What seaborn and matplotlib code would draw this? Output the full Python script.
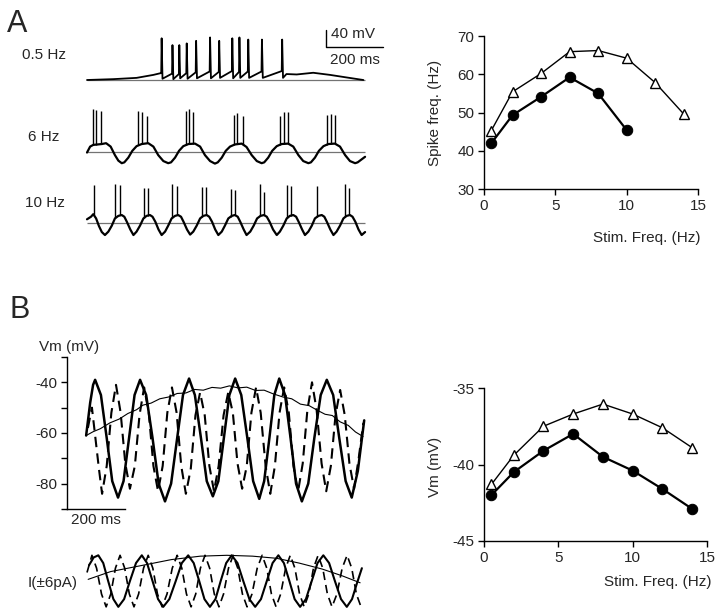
import numpy as np
import matplotlib
matplotlib.use("Agg")
import matplotlib.pyplot as plt
import seaborn as sns

# ---------------- data ----------------
# A right: spike frequency vs stimulus frequency
stim_tri = [0.5, 2, 4, 6, 8, 10, 12, 14]
spike_tri = [45.2, 55.4, 60.2, 65.9, 66.2, 64.2, 57.8, 49.6]
stim_dot = [0.5, 2, 4, 6, 8, 10]
spike_dot = [41.9, 49.3, 54.1, 59.2, 55.0, 45.4]

# B right: mean Vm vs stimulus frequency
stim_b = [0.5, 2, 4, 6, 8, 10, 12, 14]
vm_tri = [-41.3, -39.4, -37.5, -36.7, -36.05, -36.7, -37.6, -38.9]
vm_dot = [-42.0, -40.5, -39.1, -38.0, -39.5, -40.4, -41.6, -42.9]

# A left, 0.5 Hz trace (ms, mV above rest)
a05_start_t = [0, 92, 174, 233, 258]
a05_start_v = [0, 2, 5, 12, 16]
a05_spk_t = [262, 300, 324, 350, 383, 432, 464, 510, 535, 566, 614, 685]
a05_spk_v = [98, 82, 82, 86, 92, 100, 92, 98, 100, 95, 95, 95]
a05_pre_v = [16, 15, 14, 16, 18, 20, 19, 21, 19, 20, 20, 21]
a05_ahp_v = [3, 2, 4, 3, 4, 4, 5, 4, 5, 5, 5, 5]
a05_tail_t = [700, 736, 794, 853, 911, 970]
a05_tail_v = [14, 13, 17, 12, 6, 0]

# A left, 6 Hz trace
a6_t = [0, 11, 22, 52, 67, 83, 98, 110, 122,
        131, 145, 159, 174, 192, 215, 233, 250, 268, 285,
        295, 309, 323, 338, 356, 379, 397, 414, 432, 449,
        459, 473, 487, 502, 519, 543, 560, 578, 596, 613,
        622, 636, 650, 666, 683, 706, 724, 742, 759, 777,
        786, 800, 814, 830, 847, 870, 888, 906, 923, 941,
        950, 962, 976]
a6_v = [-2, 12, 16, 18, 20, 12, -8, -21, -27,
        -25, -14, 2, 13, 18, 20, 12, -8, -22, -27,
        -25, -14, 2, 13, 18, 19, 12, -8, -22, -28,
        -25, -14, 2, 12, 17, 19, 11, -8, -22, -27,
        -25, -14, 2, 13, 18, 19, 12, -8, -22, -27,
        -25, -14, 2, 13, 18, 19, 12, -8, -22, -27,
        -25, -19, -12]
a6_spk_t = [20, 32, 49, 180, 192, 209, 347, 359, 371, 516, 528, 549,
            677, 692, 707, 841, 855, 870]
a6_spk_v = [100, 98, 96, 96, 94, 84, 96, 100, 94, 86, 91, 84,
            84, 94, 94, 86, 89, 86]

# A left, 10 Hz trace
a10_t = [0, 14, 22, 32, 42, 52, 63,
         75, 87, 98, 110, 122, 131, 140, 152, 163,
         174, 186, 198, 209, 221, 230, 240, 251, 262,
         274, 285, 297, 309, 320, 330, 339, 351, 362,
         373, 385, 397, 408, 420, 429, 439, 450, 461,
         473, 484, 496, 508, 519, 529, 538, 550, 560,
         573, 585, 597, 609, 621, 631, 641, 653, 666,
         677, 689, 701, 712, 724, 734, 743, 755, 765,
         777, 789, 800, 812, 824, 833, 842, 854, 865,
         876, 888, 900, 911, 923, 932, 942, 953, 964,
         976]
a10_v = [8, 14, 20, 10, -8, -22, -29,
         -21, -7, 10, 16, 18, 14, 2, -16, -29,
         -21, -7, 10, 16, 18, 14, 2, -16, -29,
         -21, -7, 10, 16, 18, 14, 2, -16, -28,
         -21, -7, 10, 16, 18, 14, 2, -16, -29,
         -21, -7, 10, 16, 18, 14, 2, -16, -29,
         -21, -7, 10, 16, 18, 14, 2, -16, -29,
         -21, -7, 10, 16, 18, 14, 2, -16, -29,
         -21, -7, 10, 16, 18, 14, 2, -16, -29,
         -21, -7, 10, 16, 18, 14, 2, -16, -29,
         -22]
a10_spk_t = [25, 98, 116, 200, 213, 299, 317, 403, 417, 504, 520, 607, 621,
             701, 715, 806, 906, 921]
a10_spk_v = [89, 90, 89, 82, 82, 90, 87, 85, 85, 79, 77, 90, 73,
             89, 87, 87, 90, 81]

# B left, Vm traces (ms, mV)
b6_t = [66, 80, 90, 97, 117, 137, 156, 176, 195, 214, 233, 252, 273, 295, 316,
        338, 359, 380, 400, 421, 441, 462, 482, 503, 522, 541, 560, 580, 601,
        622, 642, 663, 680, 698, 715, 732, 752, 771, 790, 810, 832, 853, 875,
        896, 918, 939, 961, 982, 1003, 1025]
b6_v = [-61, -48, -41, -39, -45, -62, -79, -85.5, -79, -62, -45, -39, -45, -62,
        -80, -87, -80, -62, -45, -38.5, -45, -62, -79, -85, -79, -62, -45, -38.5,
        -45, -62, -79, -86, -79, -62, -45, -38.5, -45, -62, -80, -87, -80, -62,
        -45, -39, -45, -62, -79, -85.5, -75, -55]
b10_t = [72, 86, 98, 110, 121, 137, 153, 169, 185, 201, 217, 234, 250, 266, 282,
         298, 314, 330, 346, 362, 378, 394, 410, 427, 443, 459, 475, 491, 507,
         523, 540, 556, 572, 588, 604, 620, 636, 652, 668, 685, 701, 717, 733,
         749, 765, 781, 797, 813, 829, 845, 861, 878, 894, 910, 926, 942, 958,
         974, 990, 1006, 1022]
b10_v = [-58, -50, -62, -74, -84, -73, -52, -41, -52, -72, -82, -73, -53, -42,
         -52, -73, -83, -73, -52, -42, -52, -73, -84, -74, -53, -44, -53, -73,
         -83, -73, -53, -44, -52, -72, -82, -73, -52, -42, -52, -73, -84, -73,
         -52, -42, -52, -73, -83, -72, -51, -40, -51, -72, -83, -73, -53, -43,
         -53, -72, -82, -70, -56]
b05_t = [66, 90, 115, 148, 180, 210, 240, 262, 290, 320, 350, 380, 410, 440,
         470, 500, 530, 560, 590, 620, 650, 680, 710, 745, 775, 805, 835, 863,
         890, 915, 942, 970, 995, 1021]
b05_v = [-61, -59.5, -58.3, -56, -54.5, -52.3, -50.8, -49, -48.2, -46.5, -45.8,
         -44.4, -44.2, -42.8, -43.1, -42, -42.3, -41.4, -42.2, -41.9, -43.2,
         -43.1, -44.5, -45.8, -46.5, -48.6, -49.2, -51, -52.6, -53.1, -55.6,
         -57, -59.6, -61.4]

# B left, injected currents (ms, pA)
i6_t = [76, 92, 108, 125, 142, 160, 177, 197, 217, 238, 258, 276, 295, 314,
        332, 353, 375, 396, 418, 437, 456, 474, 493, 512, 530, 549, 568, 588,
        608, 629, 649, 669, 689, 709, 729, 748, 767, 785, 804, 824, 844, 864,
        884, 904, 924, 945, 965, 983, 1000, 1017]
i6_v = [3.7, 5.5, 6, 4.2, 0, -4.2, -6, -4.2, 0, 4.2, 6, 4.2, 0, -4.2, -6, -4.2,
        0, 4.2, 6, 4.2, 0, -4.2, -6, -4.2, 0, 4.2, 6, 4.2, 0, -4.2, -6, -4.2, 0,
        4.2, 6, 4.2, 0, -4.2, -6, -4.2, 0, 4.2, 6, 4.2, 0, -4.2, -6, -4.2, -0.5, 3]
i10_t = [69, 86, 102, 119, 135, 151, 167, 183, 199, 215, 231, 247, 264, 280,
         296, 312, 328, 345, 363, 380, 396, 412, 428, 444, 460, 476, 492, 508,
         524, 540, 557, 573, 589, 605, 621, 638, 656, 673, 689, 705, 721, 737,
         754, 770, 786, 802, 818, 834, 850, 866, 882, 898, 914, 931, 949, 966,
         982, 998, 1014]
i10_v = [2, 6, 3, -3, -6, -3, 3, 6, 3, -3, -6, -3, 3, 6, 3, -3, -6, -3, 3, 6, 3,
         -3, -6, -3, 3, 6, 3, -3, -6, -3, 3, 6, 3, -3, -6, -3, 3, 6, 3, -3, -6,
         -3, 3, 6, 3, -3, -6, -3, 3, 6, 3, -3, -6, -3, 3, 6, 3, -3, -6]
i05_t = [73, 150, 263, 360, 460, 551, 640, 723, 800, 880, 950, 1011]
i05_v = [0.4, 2.2, 3.7, 5.0, 5.8, 6.0, 5.8, 5.3, 4.2, 2.8, 1.2, -0.4]

# ---------------- figure ----------------
sns.set_style("ticks")
plt.rcParams["font.family"] = ["Liberation Sans", "DejaVu Sans"]
plt.rcParams["axes.unicode_minus"] = False

W, H = 720, 615
fig = plt.figure(figsize=(W / 100, H / 100), dpi=100)


def box(x0, y0, x1, y1):
    return [x0 / W, 1 - y1 / H, (x1 - x0) / W, (y1 - y0) / H]


def ftext(x, y, s, **kw):
    fig.text(x / W, 1 - y / H, s, **kw)


def trace(ax, t, v, **kw):
    kw.setdefault("color", "k")
    sns.lineplot(x=t, y=v, ax=ax, estimator=None, sort=False,
                 legend=False, clip_on=False, **kw)


# ---- A left traces
ax05 = fig.add_axes(box(87, 30, 390, 85))
ax6 = fig.add_axes(box(87, 105, 390, 168))
ax10 = fig.add_axes(box(87, 180, 390, 240))
for ax, lim in [(ax05, (-11.75, 117.5)), (ax6, (-38.3, 109.7)),
                (ax10, (-40.7, 100.4))]:
    ax.set_xlim(0, 1063.5)
    ax.set_ylim(*lim)
    ax.axis("off")
    ax.hlines(0, 0, 976, color="0.45", lw=0.9)

t05, v05 = list(a05_start_t), list(a05_start_v)
for st, sv, pv, av in zip(a05_spk_t, a05_spk_v, a05_pre_v, a05_ahp_v):
    t05 += [st - 1.5, st, st + 3]
    v05 += [pv, sv, av]
t05 += a05_tail_t
v05 += a05_tail_v
trace(ax05, t05, v05, lw=1.3)

trace(ax6, a6_t, a6_v, lw=1.6)
ax6.vlines(a6_spk_t, np.interp(a6_spk_t, a6_t, a6_v), a6_spk_v,
           color="k", lw=1.0)
trace(ax10, a10_t, a10_v, lw=1.6)
ax10.vlines(a10_spk_t, np.interp(a10_spk_t, a10_t, a10_v), a10_spk_v,
            color="k", lw=1.0)

# scale bar
ax05.plot([839, 839, 1039], [117.6, 77.6, 77.6], color="k", lw=1,
          clip_on=False)
ax05.text(856, 108, "40 mV", fontsize=11, va="center", ha="left")
ax05.text(939, 47, "200 ms", fontsize=11, va="center", ha="center")

ftext(22, 55, "0.5 Hz", fontsize=11, va="center")
ftext(28, 137, "6 Hz", fontsize=11, va="center")
ftext(25, 203, "10 Hz", fontsize=11, va="center")
ftext(7, 32, "A", fontsize=22, va="baseline")
ftext(9, 318, "B", fontsize=22, va="baseline")


def style_summary(ax):
    sns.despine(ax=ax)
    ax.tick_params(direction="out", length=4, width=1, labelsize=11,
                   color="k", pad=3)
    for s in ("left", "bottom"):
        ax.spines[s].set_linewidth(1)
        ax.spines[s].set_color("k")


def summary(ax, x, ytri, ydot):
    sns.lineplot(x=x[:len(ytri)], y=ytri, ax=ax, color="k", lw=1.0,
                 marker="^", markersize=7.5, markerfacecolor="white",
                 markeredgecolor="k", markeredgewidth=1, clip_on=False)
    sns.lineplot(x=x[:len(ydot)], y=ydot, ax=ax, color="k", lw=1.6,
                 marker="o", markersize=7.5, markerfacecolor="k",
                 markeredgecolor="k", clip_on=False)


# ---- A right
axar = fig.add_axes(box(484, 36, 698, 189))
summary(axar, stim_tri, spike_tri, spike_dot)
axar.set_xlim(0, 15)
axar.set_ylim(30, 70)
axar.set_xticks([0, 5, 10, 15])
axar.set_yticks([30, 40, 50, 60, 70])
style_summary(axar)
axar.set_ylabel("Spike freq. (Hz)", fontsize=11)
axar.yaxis.set_label_coords(-0.195, 0.5)
axar.set_xlabel("Stim. Freq. (Hz)", fontsize=11, ha="right", va="center")
axar.xaxis.set_label_coords(1.014, -0.32)

# ---- B right
axbr = fig.add_axes(box(484, 388, 707, 541))
summary(axbr, stim_b, vm_tri, vm_dot)
axbr.set_xlim(0, 15)
axbr.set_ylim(-45, -35)
axbr.set_xticks([0, 5, 10, 15])
axbr.set_yticks([-45, -40, -35])
style_summary(axbr)
axbr.set_ylabel("Vm (mV)", fontsize=11)
axbr.yaxis.set_label_coords(-0.19, 0.484)
axbr.set_xlabel("Stim. Freq. (Hz)", fontsize=11, ha="right", va="center")
axbr.xaxis.set_label_coords(1.018, -0.268)

# ---- B left, Vm
axbl = fig.add_axes(box(67, 357, 370, 509))
trace(axbl, b05_t, b05_v, lw=0.8)
trace(axbl, b6_t, b6_v, lw=1.8)
trace(axbl, b10_t, b10_v, lw=1.5, linestyle=(0, (5, 3)))
axbl.set_xlim(0, 1045)
axbl.set_ylim(-90, -30)
sns.despine(ax=axbl)
axbl.spines["left"].set_bounds(-90, -30)
axbl.spines["bottom"].set_bounds(0, 200)
for s in ("left", "bottom"):
    axbl.spines[s].set_linewidth(1)
    axbl.spines[s].set_color("k")
axbl.set_yticks(range(-90, -29, 10))
axbl.set_yticklabels(["", "-80", "", "-60", "", "-40", ""])
axbl.set_xticks([])
axbl.tick_params(axis="y", direction="out", length=4, width=1,
                 labelsize=11, color="k", pad=3)
ftext(96, 520, "200 ms", fontsize=11, ha="center", va="center")
ftext(69, 347, "Vm (mV)", fontsize=11, ha="center", va="center")

# ---- B left, currents
axbi = fig.add_axes(box(67, 548, 370, 612))
trace(axbi, i05_t, i05_v, lw=0.8)
trace(axbi, i6_t, i6_v, lw=1.5)
trace(axbi, i10_t, i10_v, lw=1.2, linestyle=(0, (5, 3)))
axbi.set_xlim(0, 1045)
axbi.set_ylim(-7.2, 7.7)
axbi.axis("off")
ftext(78, 583, "I(\u00b16pA)", fontsize=11, ha="right", va="center")

fig.savefig("out.png", dpi=100)
